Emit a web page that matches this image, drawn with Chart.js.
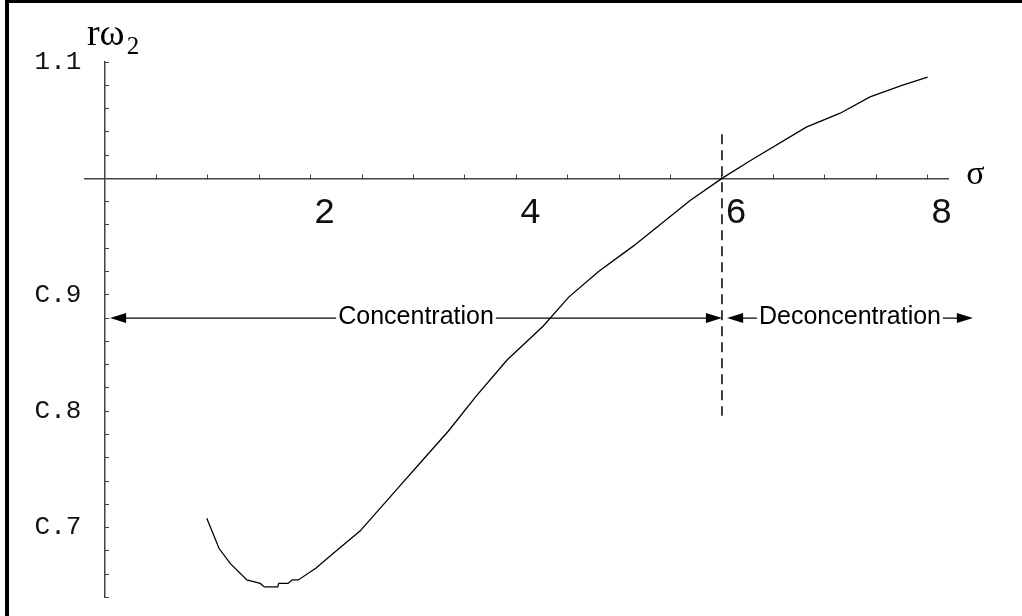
<!DOCTYPE html>
<html>
<head>
<meta charset="utf-8">
<script src="https://cdn.jsdelivr.net/npm/chart.js@4.4.1/dist/chart.umd.min.js"></script>
<style>
  html, body { margin: 0; padding: 0; background: #fff; }
  canvas { display: block; }
</style>
</head>
<body>
<canvas id="chart" width="1022" height="616"></canvas>
<script>
// curve r*omega_2 against sigma
const sigma = [0.99, 1.11, 1.22, 1.38, 1.51, 1.55, 1.68, 1.69, 1.78, 1.82, 1.88, 2.05, 2.21, 2.48,
    2.87, 3.06, 3.34, 3.61, 3.91, 4.26, 4.51, 4.80, 5.14, 5.69, 6.00, 6.27, 6.82, 7.15, 7.44, 7.75, 8.00];
const rOmega = [0.708, 0.682, 0.669, 0.655, 0.652, 0.649, 0.649, 0.652, 0.652, 0.655, 0.655, 0.665, 0.677, 0.697,
    0.736, 0.755, 0.783, 0.813, 0.844, 0.873, 0.898, 0.920, 0.942, 0.981, 1.000, 1.015, 1.044, 1.056, 1.070, 1.080, 1.087];

const xTickValues = [2, 4, 6, 8];
const xTickLabels = ['2', '4', '6', '8'];
const yTickValues = [0.7, 0.8, 0.9, 1.1];
const yTickLabels = ['C.7', 'C.8', 'C.9', '1.1'];

const regionLabels = ['Concentration', 'Deconcentration'];
const regionStart = [0.05, 6.05];
const regionEnd = [6.0, 8.44];
const arrowLevel = 0.88;
const boundarySigma = 6;
const boundaryRange = [0.796, 1.038];

const axisColor = '#444';
const monoFont = '"Liberation Mono", "Courier New", monospace';

function labelFor(values, labels, v) {
    const i = values.findIndex(t => Math.abs(t - v) < 1e-6);
    return i < 0 ? '' : labels[i];
}

function stepTicks(scale, step) {
    const ticks = [];
    const first = Math.ceil(scale.min / step - 1e-9);
    const last = Math.floor(scale.max / step + 1e-9);
    for (let k = first; k <= last; k++) ticks.push({ value: Math.round(k * step * 1000) / 1000 });
    scale.ticks = ticks;
}

function arrowHead(ctx, tipX, tipY, dir) {
    ctx.beginPath();
    ctx.moveTo(tipX, tipY);
    ctx.lineTo(tipX - dir * 16, tipY - 5);
    ctx.lineTo(tipX - dir * 16, tipY + 5);
    ctx.closePath();
    ctx.fill();
}

const decorations = {
    id: 'decorations',
    afterDraw(chart) {
        const { ctx } = chart;
        const x = chart.scales.x;
        const y = chart.scales.y;
        ctx.save();
        ctx.fillStyle = '#000';
        ctx.strokeStyle = '#000';

        // frame (left and top edges only)
        ctx.fillRect(5, 0, 4, chart.height);
        ctx.fillRect(5, 0, chart.width - 5, 3);

        // dashed boundary
        const bx = x.getPixelForValue(boundarySigma);
        ctx.lineWidth = 1.5;
        ctx.setLineDash([10, 6]);
        ctx.beginPath();
        ctx.moveTo(bx, y.getPixelForValue(boundaryRange[1]));
        ctx.lineTo(bx, y.getPixelForValue(boundaryRange[0]));
        ctx.stroke();
        ctx.setLineDash([]);

        // region arrows
        const ay = y.getPixelForValue(arrowLevel);
        ctx.font = '25px "Liberation Sans", Arial, sans-serif';
        ctx.lineWidth = 1.2;
        ctx.textAlign = 'center';
        ctx.textBaseline = 'alphabetic';
        regionLabels.forEach((text, i) => {
            const x0 = x.getPixelForValue(regionStart[i]);
            const x1 = x.getPixelForValue(regionEnd[i]);
            const mid = (x0 + x1) / 2;
            const w = ctx.measureText(text).width;
            ctx.beginPath();
            ctx.moveTo(x0 + 14, ay);
            ctx.lineTo(mid - w / 2 - 2, ay);
            ctx.moveTo(mid + w / 2 + 2, ay);
            ctx.lineTo(x1 - 14, ay);
            ctx.stroke();
            arrowHead(ctx, x0, ay, -1);
            arrowHead(ctx, x1, ay, 1);
            ctx.fillText(text, mid, ay + 6);
        });

        // axis names
        ctx.textAlign = 'left';
        ctx.font = '34px "Liberation Serif", "Times New Roman", serif';
        ctx.fillText('σ', chart.chartArea.right + 18, y.getPixelForValue(1) + 6);
        const ox = x.getPixelForValue(0) - 18;
        const oy = chart.chartArea.top - 17;
        ctx.font = '38px "Liberation Serif", "Times New Roman", serif';
        ctx.fillText('rω', ox, oy);
        const rw = ctx.measureText('rω').width;
        ctx.font = '25px "Liberation Serif", "Times New Roman", serif';
        ctx.fillText('2', ox + rw + 2, oy + 9);
        ctx.restore();
    }
};

new Chart(document.getElementById('chart').getContext('2d'), {
    type: 'line',
    data: {
        datasets: [{
            data: sigma.map((s, i) => ({ x: s, y: rOmega[i] })),
            borderColor: '#000',
            borderWidth: 1.3,
            pointRadius: 0,
            fill: false,
            tension: 0
        }]
    },
    options: {
        responsive: false,
        animation: false,
        layout: { padding: { left: 0, right: 73.8, top: 62, bottom: 12 } },
        plugins: { legend: { display: false }, tooltip: { enabled: false } },
        scales: {
            x: {
                type: 'linear',
                min: -0.2,
                max: 8.2,
                position: { y: 1 },
                afterBuildTicks: s => stepTicks(s, 0.5),
                grid: { drawOnChartArea: false, drawTicks: true, tickLength: -5, color: axisColor, lineWidth: 1 },
                border: { display: true, color: axisColor, width: 1.5 },
                ticks: {
                    autoSkip: false,
                    maxRotation: 0,
                    padding: 18,
                    labelOffset: 14,
                    color: '#111',
                    font: { family: monoFont, size: 36 },
                    callback: v => labelFor(xTickValues, xTickLabels, v)
                }
            },
            y: {
                type: 'linear',
                position: 'left',
                min: 0.64,
                max: 1.1,
                afterBuildTicks: s => stepTicks(s, 0.02),
                afterFit: s => { s.width = 84.4; },
                grid: { display: false, drawTicks: false, tickLength: 0 },
                border: { display: false },
                ticks: {
                    autoSkip: false,
                    padding: 3,
                    color: '#111',
                    font: { family: monoFont, size: 26 },
                    callback: v => labelFor(yTickValues, yTickLabels, v)
                }
            },
            yAxisLine: {
                axis: 'y',
                type: 'linear',
                position: { x: 0 },
                min: 0.64,
                max: 1.1,
                afterBuildTicks: s => stepTicks(s, 0.02),
                grid: { drawOnChartArea: false, drawTicks: true, tickLength: -5, color: axisColor, lineWidth: 1 },
                border: { display: true, color: axisColor, width: 1.5 },
                ticks: { display: false }
            }
        }
    },
    plugins: [decorations]
});
</script>
</body>
</html>
